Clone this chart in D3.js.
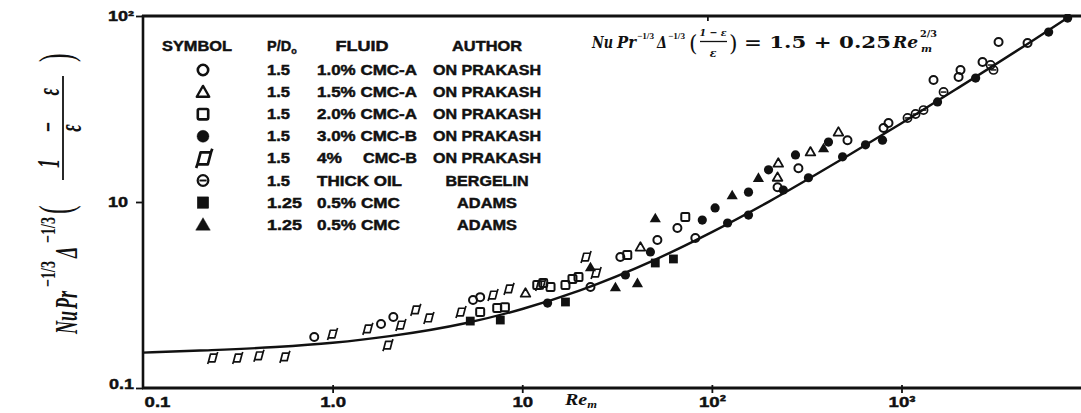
<!DOCTYPE html>
<html><head><meta charset="utf-8">
<script src="https://cdn.jsdelivr.net/npm/d3@7/dist/d3.min.js"></script>
<style>
html,body{margin:0;padding:0;background:#fff;}
svg{display:block;}
text{fill:#111;}
.sans{font-family:"Liberation Sans",Arial,sans-serif;font-weight:bold;stroke:#111;stroke-width:0.45px;}
.serif{font-family:"DejaVu Serif","Liberation Serif",serif;font-weight:bold;}
.lserif{font-family:"Liberation Serif","DejaVu Serif",serif;font-weight:bold;}
</style>
</head><body>
<svg id="chart" width="1081" height="413"></svg>
<script>
// ---------- data ----------
const xTickValues = [0.1, 1, 10, 100, 1000];
const xTickLabels = ["0.1", "1.0", "10", "10²", "10³"];
const yTickValues = [1, 10, 100];
const yTickLabels = ["0.1", "10", "10²"];

const legendSymbols = ["openCircle","openTriangle","openSquare","filledCircle","parallelogram","circleBar","filledSquare","filledTriangle"];
const legendPD = ["1.5","1.5","1.5","1.5","1.5","1.5","1.25","1.25"];
const legendFluid = ["1.0% CMC-A","1.5% CMC-A","2.0% CMC-A","3.0% CMC-B","4%   CMC-B","THICK OIL","0.5% CMC","0.5% CMC"];
const legendAuthor = ["ON PRAKASH","ON PRAKASH","ON PRAKASH","ON PRAKASH","ON PRAKASH","BERGELIN","ADAMS","ADAMS"];

// correlation line  Nu Pr^-1/3 Δ^-1/3 ((1-ε)/ε) = 1.5 + 0.25 Re^(2/3)
const curveRe  = [0.1, 0.2, 0.5, 1, 2, 5, 10, 20, 50, 100, 200, 500, 1000, 2000, 5000, 7800];
const curveVal = [1.55, 1.59, 1.66, 1.75, 1.90, 2.23, 2.66, 3.34, 4.89, 6.89, 10.05, 17.3, 26.5, 41.2, 74.6, 100.3];

const cmcA10 = [[0.80,1.88],[1.80,2.21],[2.09,2.41],[5.5,2.97],[6.0,3.08],[22.9,3.49],[32.9,5.06],[51.6,6.25],[65.8,7.25],[81.8,6.41],[222,12.0],[286,15.2],[519,21.5],[804,25.0],[854,26.6],[1475,45.3],[2000,47.0],[2047,51.3],[2675,56.6],[3250,72.5],[4620,71.6]];
const cmcA15 = [[10.4,3.24],[42,5.73],[222,13.6],[224,16.2],[331,18.6],[465,23.8]];
const cmcA20 = [[6.0,2.56],[7.38,2.69],[8.1,2.72],[12.0,3.58],[12.9,3.67],[14.1,3.49],[16.9,3.58],[18.4,3.86],[19.8,3.95],[35.8,5.19],[72.4,8.30]];
const cmcB30 = [[13.6,2.86],[35,4.05],[47.4,5.39],[89,8.0],[104,9.29],[121,7.71],[156,11.3],[156,8.51],[199,14.9],[238,11.6],[276,17.9],[323,13.5],[412,21.0],[489,17.5],[646,20.3],[794,21.5],[1549,34.5],[2460,46.4],[5970,82.0],[7520,97.5]];
const cmcB40 = [[0.231,1.45],[0.313,1.45],[0.405,1.49],[0.555,1.47],[0.99,1.95],[1.52,2.08],[1.94,1.70],[2.27,2.18],[2.72,2.63],[3.19,2.38],[4.71,2.56],[6.95,3.16],[8.44,3.41],[12.4,3.58],[21.5,5.06],[24.3,4.15]];
const thickOil = [[1076,28.3],[1186,29.7],[1306,31.2],[1667,39.0],[2950,54.5],[3055,51.3]];
const adamsSq = [[5.32,2.29],[7.66,2.32],[16.9,2.90],[50.3,4.70],[62.7,4.94]];
const adamsTri = [[22.9,4.47],[31.0,3.49],[40.5,3.67],[50.3,8.20],[128,10.9],[176,13.5],[388,19.5]];

const seriesList = [
  {sym:"openCircle", data:cmcA10},
  {sym:"openTriangle", data:cmcA15},
  {sym:"openSquare", data:cmcA20},
  {sym:"filledCircle", data:cmcB30},
  {sym:"parallelogram", data:cmcB40},
  {sym:"circleBar", data:thickOil},
  {sym:"filledSquare", data:adamsSq},
  {sym:"filledTriangle", data:adamsTri}
];

// ---------- layout ----------
const pL = 143, pR = 1081, pT = 16, pB = 388;
const svg = d3.select("#chart");
const x = d3.scaleLog().domain([0.1, 1000]).range([pL, 901.5]);
const y = d3.scaleLog().domain([1, 100]).range([pB, pT]);
const ink = "#111";

svg.append("defs").append("clipPath").attr("id","plotclip")
  .append("rect").attr("x",pL).attr("y",pT-2).attr("width",pR-pL).attr("height",pB-pT+2);

function stretch(sel, k){
  sel.each(function(){
    const w = this.getComputedTextLength();
    d3.select(this).attr("textLength", w*k).attr("lengthAdjust","spacingAndGlyphs");
  });
  return sel;
}
function fitW(sel, w){ return sel.attr("textLength", w).attr("lengthAdjust","spacingAndGlyphs"); }

function drawSymbol(g, type, s) {
  switch(type){
    case "openCircle":
      g.append("circle").attr("r",4.0*s).attr("fill","none").attr("stroke",ink).attr("stroke-width",2*s); break;
    case "openTriangle":
      g.append("path").attr("d",`M0,${-4.8*s}L${4.8*s},${3.6*s}L${-4.8*s},${3.6*s}Z`).attr("fill","none").attr("stroke",ink).attr("stroke-width",1.8*s).attr("stroke-linejoin","round"); break;
    case "openSquare":
      g.append("rect").attr("x",-4*s).attr("y",-4*s).attr("width",8*s).attr("height",8*s).attr("rx",1.2*s).attr("fill","none").attr("stroke",ink).attr("stroke-width",2*s); break;
    case "filledCircle":
      g.append("circle").attr("r",4.6*s).attr("fill",ink); break;
    case "parallelogram":
      g.append("path").attr("d",
        `M${-3.5*s},${3.8*s}L${-1.5*s},${-3.8*s}L${5*s},${-3.8*s}L${3*s},${3.8*s}Z` +
        `M${-3.5*s},${3.8*s}L${-4.3*s},${6*s}M${5*s},${-3.8*s}L${5.8*s},${-6*s}`)
        .attr("fill","none").attr("stroke",ink).attr("stroke-width",1.7*s).attr("stroke-linejoin","round"); break;
    case "circleBar":
      g.append("circle").attr("r",4.1*s).attr("fill","none").attr("stroke",ink).attr("stroke-width",1.7*s);
      g.append("line").attr("x1",-2.8*s).attr("x2",2.8*s).attr("stroke",ink).attr("stroke-width",1.5*s); break;
    case "filledSquare":
      g.append("rect").attr("x",-4.4*s).attr("y",-4.4*s).attr("width",8.8*s).attr("height",8.8*s).attr("fill",ink); break;
    case "filledTriangle":
      g.append("path").attr("d",`M0,${-5.4*s}L${5.6*s},${4.2*s}L${-5.6*s},${4.2*s}Z`).attr("fill",ink); break;
  }
}

// ---------- axes ----------
svg.append("line").attr("x1",pL-1).attr("x2",pR).attr("y1",pB).attr("y2",pB).attr("stroke",ink).attr("stroke-width",3);
svg.append("line").attr("x1",pL-1).attr("x2",pR).attr("y1",pT).attr("y2",pT).attr("stroke",ink).attr("stroke-width",3);
svg.append("line").attr("x1",pL).attr("x2",pL).attr("y1",pT-1).attr("y2",pB+1).attr("stroke",ink).attr("stroke-width",2.6);

const xAxis = d3.axisBottom(x).tickValues(xTickValues).tickFormat((d,i)=>xTickLabels[i]).tickSizeInner(5).tickSizeOuter(0).tickPadding(3);
const gx = svg.append("g").attr("transform",`translate(0,${pB})`).call(xAxis);
gx.select(".domain").remove();
gx.attr("font-family",null).attr("font-size",null);
gx.selectAll(".tick line").attr("stroke",ink).attr("stroke-width",1.8).attr("y1",-3);
gx.selectAll(".tick text").attr("class","sans").attr("font-size",15.5).attr("fill",ink)
  .attr("dx",(d,i)=> i===0 ? 14 : 0);
stretch(gx.selectAll(".tick text"), 1.2);
gx.selectAll(".tick").filter((d,i)=>i===0).select("line").remove();

const yAxis = d3.axisLeft(y).tickValues(yTickValues).tickFormat((d,i)=>yTickLabels[i]).tickSizeInner(7).tickSizeOuter(0).tickPadding(2);
const gy = svg.append("g").attr("transform",`translate(${pL},0)`).call(yAxis);
gy.select(".domain").remove();
gy.attr("font-family",null).attr("font-size",null);
gy.selectAll(".tick line").attr("stroke",ink).attr("stroke-width",1.8);
gy.selectAll(".tick text").attr("class","sans").attr("font-size",15).attr("fill",ink)
  .attr("dy",(d,i)=> i===0 ? "0.05em" : (i===2 ? "0.3em" : "0.32em"))
  .attr("dx",(d,i)=> i===1 ? -6 : 0);
stretch(gy.selectAll(".tick text"), 1.2);

// top tick at 10^2
svg.append("line").attr("x1",x(100)-4).attr("x2",x(100)-4).attr("y1",pT).attr("y2",pT+5).attr("stroke",ink).attr("stroke-width",1.8);

// x axis title Re_m
const reT = svg.append("text").attr("class","lserif").attr("font-style","italic").attr("font-size",16).attr("x",565).attr("y",405);
reT.append("tspan").text("Re");
reT.append("tspan").attr("font-size",10).attr("dy",3).text("m");
stretch(reT, 1.25);

// ---------- curve ----------
const plot = svg.append("g").attr("clip-path","url(#plotclip)");
const line = d3.line().x((d,i)=>x(curveRe[i])).y((d,i)=>y(curveVal[i])).curve(d3.curveMonotoneX);
plot.append("path").attr("d",line(curveRe)).attr("fill","none").attr("stroke",ink).attr("stroke-width",2.4);

// ---------- points ----------
seriesList.forEach(sr=>{
  sr.data.forEach(p=>{
    const g = plot.append("g").attr("transform",`translate(${x(p[0])},${y(p[1])})`);
    drawSymbol(g, sr.sym, 1);
  });
});

// ---------- legend ----------
const lg = svg.append("g").attr("class","sans").attr("font-size",14.5);
const hdrY = 51, rowY0 = 75, rowDY = 22.1;
const wPD = {"1.5":23, "1.25":35};
const wFluid = {"THICK OIL":85, "0.5% CMC":83};
const wAuthor = {"ON PRAKASH":108, "BERGELIN":83, "ADAMS":60};
fitW(lg.append("text").attr("x",197).attr("y",hdrY).attr("text-anchor","middle").text("SYMBOL"), 70);
const pdT = lg.append("text").attr("x",267).attr("y",hdrY);
pdT.append("tspan").text("P/D");
pdT.append("tspan").attr("font-size",9).attr("dy",3).text("o");
fitW(lg.append("text").attr("x",362).attr("y",hdrY).attr("text-anchor","middle").text("FLUID"), 53);
fitW(lg.append("text").attr("x",487).attr("y",hdrY).attr("text-anchor","middle").text("AUTHOR"), 70);
legendSymbols.forEach((s,i)=>{
  const yy = rowY0 + i*rowDY;
  const g = lg.append("g").attr("transform",`translate(203,${yy-5})`);
  drawSymbol(g, s, s==="parallelogram" ? 1.6 : 1.3);
  fitW(lg.append("text").attr("x",267).attr("y",yy).text(legendPD[i]), wPD[legendPD[i]]);
  const parts = legendFluid[i].split(/\s{2,}/);
  if (parts.length > 1) {
    fitW(lg.append("text").attr("x",317).attr("y",yy).text(parts[0]), 25);
    fitW(lg.append("text").attr("x",363).attr("y",yy).text(parts[1]), 54);
  } else {
    fitW(lg.append("text").attr("x",317).attr("y",yy).text(legendFluid[i]), wFluid[legendFluid[i]] || 100);
  }
  fitW(lg.append("text").attr("x",487).attr("y",yy).attr("text-anchor","middle").text(legendAuthor[i]), wAuthor[legendAuthor[i]]);
});

// ---------- equation ----------
const eq = svg.append("g").attr("class","serif");
const lhs = eq.append("text").attr("y",48);
function ts(txt,xx,yy,fs,it,w,fam){ const s = lhs.append("tspan").attr("x",xx).attr("y",yy).attr("font-size",fs).attr("font-style",it?"italic":"normal").attr("textLength",w).attr("lengthAdjust","spacingAndGlyphs").text(txt); if(fam) s.attr("font-family",fam); return s; }
const supFam = "Liberation Serif, serif";
ts("Nu",592,48,16,true,21);
ts("Pr",617,48,16,true,19);
ts("−1/3",637,39,9,false,17,supFam);
ts("Δ",657,48,16,true,10);
ts("−1/3",668,39,9,false,17,supFam);
const frac = eq.append("text").attr("y",51);
frac.append("tspan").attr("x",689).attr("y",51).attr("font-size",22).attr("font-weight","normal").text("(");
frac.append("tspan").attr("x",713).attr("y",36).attr("font-size",10).attr("font-style","italic").attr("text-anchor","middle").attr("textLength",27).attr("lengthAdjust","spacingAndGlyphs").text("1 − ε");
frac.append("tspan").attr("x",713).attr("y",57).attr("font-size",11).attr("font-style","italic").attr("text-anchor","middle").text("ε");
frac.append("tspan").attr("x",729).attr("y",51).attr("font-size",22).attr("font-weight","normal").text(")");
eq.append("line").attr("x1",700).attr("x2",727).attr("y1",41.5).attr("y2",41.5).attr("stroke",ink).attr("stroke-width",1.3);
const rhs = eq.append("text").attr("y",48);
rhs.append("tspan").attr("x",744).attr("y",48).attr("font-size",16).attr("textLength",147).attr("lengthAdjust","spacingAndGlyphs").text("= 1.5 + 0.25");
rhs.append("tspan").attr("x",893).attr("y",48).attr("font-size",16).attr("font-style","italic").attr("textLength",25).attr("lengthAdjust","spacingAndGlyphs").text("Re");
rhs.append("tspan").attr("x",920).attr("y",37).attr("font-size",8.5).attr("textLength",17).attr("lengthAdjust","spacingAndGlyphs").text("2/3");
rhs.append("tspan").attr("x",921).attr("y",52).attr("font-size",9).attr("font-style","italic").attr("textLength",11).attr("lengthAdjust","spacingAndGlyphs").text("m");

// ---------- y axis title (rotated, horizontally stretched) ----------
const yl = svg.append("g").attr("class","lserif");
const sY = 1.8;
function rt(txt,px,py,fs,it,anchor){ return yl.append("text").attr("transform",`translate(${px},${py}) scale(${sY},1) rotate(-90)`).attr("font-size",fs).attr("font-style",it?"italic":"normal").attr("text-anchor",anchor||"start").text(txt); }
rt("Nu",77,334,18,true);
rt("Pr",77,309,18,true);
fitW(rt("−1/3",55,287,12,false),26);
rt("Δ",77,258,18,true);
fitW(rt("−1/3",55,243,12,false),26);
rt("(",71,214,26,false).attr("font-weight","normal");
rt("1 − ε",59,128,18,true,"middle").attr("textLength",80).attr("lengthAdjust","spacing");
yl.append("line").attr("x1",63).attr("x2",63).attr("y1",180).attr("y2",76).attr("stroke",ink).attr("stroke-width",1.8);
rt("ε",81,128,18,true,"middle");
rt(")",71,62,26,false).attr("font-weight","normal");
</script>
</body></html>
